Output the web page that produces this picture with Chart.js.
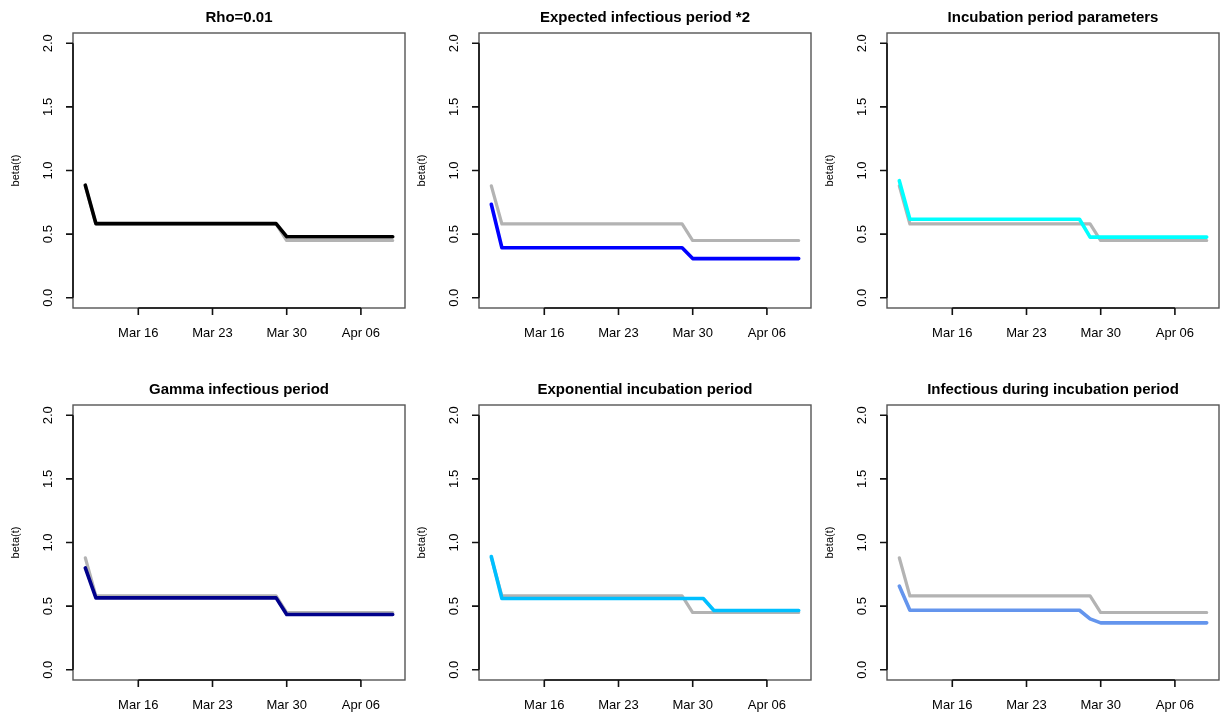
<!DOCTYPE html>
<html>
<head>
<meta charset="utf-8">
<script src="https://cdn.jsdelivr.net/npm/chart.js@4.4.0/dist/chart.umd.min.js"></script>
<style>
  body { margin: 0; background: #fff; width: 1223px; height: 717px; overflow: hidden; position: relative; }
  .panel { position: absolute; width: 406px; height: 345px; }
</style>
</head>
<body>
<div class="panel" style="left:0px;top:0px"><canvas id="c0" width="406" height="345"></canvas></div>
<div class="panel" style="left:406px;top:0px"><canvas id="c1" width="406" height="345"></canvas></div>
<div class="panel" style="left:814px;top:0px"><canvas id="c2" width="406" height="345"></canvas></div>
<div class="panel" style="left:0px;top:372px"><canvas id="c3" width="406" height="345"></canvas></div>
<div class="panel" style="left:406px;top:372px"><canvas id="c4" width="406" height="345"></canvas></div>
<div class="panel" style="left:814px;top:372px"><canvas id="c5" width="406" height="345"></canvas></div>
<script>
// days: Mar 11 .. Apr 09 (index 0..29)
const dates = [
  "Mar 11", "Mar 12", "Mar 13", "Mar 14", "Mar 15", "Mar 16", "Mar 17", "Mar 18", "Mar 19", "Mar 20",
  "Mar 21", "Mar 22", "Mar 23", "Mar 24", "Mar 25", "Mar 26", "Mar 27", "Mar 28", "Mar 29", "Mar 30",
  "Mar 31", "Apr 01", "Apr 02", "Apr 03", "Apr 04", "Apr 05", "Apr 06", "Apr 07", "Apr 08", "Apr 09"
];

// x tick labels and their day index
const tickLabels = ["Mar 16", "Mar 23", "Mar 30", "Apr 06"];
const tickDays = [5, 12, 19, 26];

// y ticks
const yTicks = [0, 0.5, 1, 1.5, 2];
const yTickLabels = ["0.0", "0.5", "1.0", "1.5", "2.0"];

// reference fit (gray, same in every panel)
const baseline = [
  0.88, 0.58, 0.58, 0.58, 0.58, 0.58, 0.58, 0.58, 0.58, 0.58,
  0.58, 0.58, 0.58, 0.58, 0.58, 0.58, 0.58, 0.58, 0.58, 0.45,
  0.45, 0.45, 0.45, 0.45, 0.45, 0.45, 0.45, 0.45, 0.45, 0.45
];

// sensitivity runs
const rho001 = [
  0.885, 0.583, 0.583, 0.583, 0.583, 0.583, 0.583, 0.583, 0.583, 0.583,
  0.583, 0.583, 0.583, 0.583, 0.583, 0.583, 0.583, 0.583, 0.583, 0.48,
  0.48, 0.48, 0.48, 0.48, 0.48, 0.48, 0.48, 0.48, 0.48, 0.48
];
const infPeriodX2 = [
  0.735, 0.393, 0.393, 0.393, 0.393, 0.393, 0.393, 0.393, 0.393, 0.393,
  0.393, 0.393, 0.393, 0.393, 0.393, 0.393, 0.393, 0.393, 0.393, 0.308,
  0.308, 0.308, 0.308, 0.308, 0.308, 0.308, 0.308, 0.308, 0.308, 0.308
];
const incubParams = [
  0.92, 0.617, 0.617, 0.617, 0.617, 0.617, 0.617, 0.617, 0.617, 0.617,
  0.617, 0.617, 0.617, 0.617, 0.617, 0.617, 0.617, 0.617, 0.477, 0.477,
  0.477, 0.477, 0.477, 0.477, 0.477, 0.477, 0.477, 0.477, 0.477, 0.477
];
const gammaInf = [
  0.80, 0.565, 0.565, 0.565, 0.565, 0.565, 0.565, 0.565, 0.565, 0.565,
  0.565, 0.565, 0.565, 0.565, 0.565, 0.565, 0.565, 0.565, 0.565, 0.434,
  0.434, 0.434, 0.434, 0.434, 0.434, 0.434, 0.434, 0.434, 0.434, 0.434
];
const expIncub = [
  0.89, 0.56, 0.56, 0.56, 0.56, 0.56, 0.56, 0.56, 0.56, 0.56,
  0.56, 0.56, 0.56, 0.56, 0.56, 0.56, 0.56, 0.56, 0.56, 0.56,
  0.56, 0.466, 0.466, 0.466, 0.466, 0.466, 0.466, 0.466, 0.466, 0.466
];
const infDuringIncub = [
  0.658, 0.468, 0.468, 0.468, 0.468, 0.468, 0.468, 0.468, 0.468, 0.468,
  0.468, 0.468, 0.468, 0.468, 0.468, 0.468, 0.468, 0.468, 0.40, 0.369,
  0.369, 0.369, 0.369, 0.369, 0.369, 0.369, 0.369, 0.369, 0.369, 0.369
];

const titles = [
  "Rho=0.01",
  "Expected infectious period *2",
  "Incubation period parameters",
  "Gamma infectious period",
  "Exponential incubation period",
  "Infectious during incubation period"
];
const seriesList = [rho001, infPeriodX2, incubParams, gammaInf, expIncub, infDuringIncub];
const colors = ["#000000", "#0000FF", "#00FFFF", "#00008B", "#00BFFF", "#6495ED"];
const grayColor = "#B3B3B3";

const FONT = "'Liberation Sans', Arial, Helvetica, sans-serif";

// R-style box, axes, labels and title
const rAxes = {
  id: "rAxes",
  afterDraw(chart, args, opts) {
    const { ctx, chartArea: a } = chart;
    const x = chart.scales.x, y = chart.scales.y;
    ctx.save();

    // box
    ctx.strokeStyle = "#555";
    ctx.lineWidth = 1.4;
    ctx.strokeRect(a.left, a.top, a.right - a.left, a.bottom - a.top);

    ctx.strokeStyle = "#111";
    ctx.lineWidth = 1.6;
    ctx.fillStyle = "#000";

    // x axis
    const xs = tickDays.map((d) => x.getPixelForValue(d));
    ctx.beginPath();
    ctx.moveTo(xs[0], a.bottom);
    ctx.lineTo(xs[xs.length - 1], a.bottom);
    xs.forEach((px) => { ctx.moveTo(px, a.bottom); ctx.lineTo(px, a.bottom + 7); });
    ctx.stroke();
    ctx.font = "13px " + FONT;
    ctx.textAlign = "center";
    ctx.textBaseline = "middle";
    xs.forEach((px, i) => ctx.fillText(tickLabels[i], px, a.bottom + 25));

    // y axis
    const ys = yTicks.map((v) => y.getPixelForValue(v));
    ctx.beginPath();
    ctx.moveTo(a.left, ys[0]);
    ctx.lineTo(a.left, ys[ys.length - 1]);
    ys.forEach((py) => { ctx.moveTo(a.left, py); ctx.lineTo(a.left - 7, py); });
    ctx.stroke();
    ys.forEach((py, i) => {
      ctx.save();
      ctx.translate(a.left - 25, py);
      ctx.rotate(-Math.PI / 2);
      ctx.fillText(yTickLabels[i], 0, 0);
      ctx.restore();
    });

    // y label
    ctx.save();
    ctx.font = "11px " + FONT;
    ctx.translate(a.left - 57, (a.top + a.bottom) / 2);
    ctx.rotate(-Math.PI / 2);
    ctx.fillText("beta(t)", 0, 0);
    ctx.restore();

    // title
    ctx.font = "bold 15px " + FONT;
    ctx.fillText(opts.title, (a.left + a.right) / 2, a.top - 15);

    ctx.restore();
  }
};

seriesList.forEach((values, k) => {
  const canvas = document.getElementById("c" + k);
  const ctx = canvas.getContext("2d");
  const top = k < 3 ? 33 : 33;

  new Chart(ctx, {
    type: "line",
    data: {
      datasets: [
        {
          data: values.map((v, i) => ({ x: i, y: v })),
          borderColor: colors[k],
          borderWidth: 3.6,
          pointRadius: 0,
          tension: 0,
          borderJoinStyle: "round",
          borderCapStyle: "round"
        },
        {
          data: baseline.map((v, i) => ({ x: i, y: v })),
          borderColor: grayColor,
          borderWidth: 3.2,
          pointRadius: 0,
          tension: 0,
          borderJoinStyle: "round",
          borderCapStyle: "round"
        }
      ]
    },
    options: {
      responsive: false,
      animation: false,
      layout: { padding: { left: 73, top: top, right: 1, bottom: 37 } },
      scales: {
        x: { type: "linear", min: -1.16, max: dates.length - 1 + 1.16, display: false },
        y: { type: "linear", min: -0.08, max: 2.08, display: false }
      },
      plugins: {
        legend: { display: false },
        tooltip: { enabled: false },
        rAxes: { title: titles[k] }
      }
    },
    plugins: [rAxes]
  });
});
</script>
</body>
</html>
